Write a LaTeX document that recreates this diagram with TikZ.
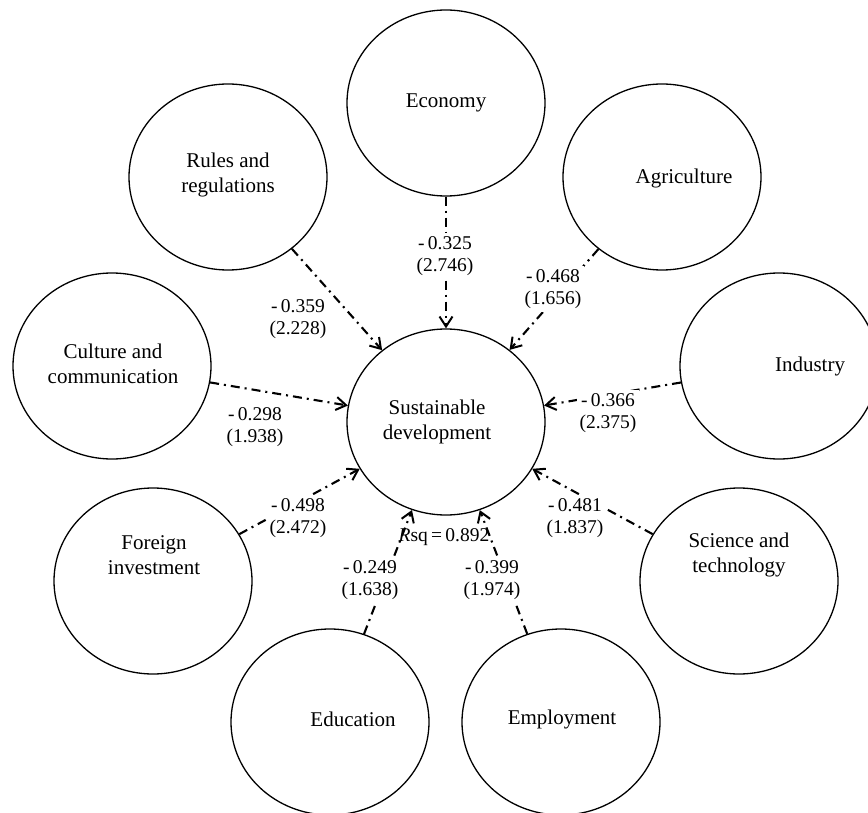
\documentclass[tikz,border=0pt]{standalone}
\usepackage{fontspec}
\setmainfont{Liberation Serif}
\usetikzlibrary{shapes.geometric,arrows.meta}

\begin{document}
\begin{tikzpicture}[x=1pt,y=-1pt,
  factor/.style={draw,ellipse,line width=1.3pt,minimum width=198pt,minimum height=186pt,inner sep=0pt},
  factortext/.style={align=center,inner sep=0pt,font=\fontsize{21}{25}\selectfont},
  coef/.style={align=center,fill=white,inner sep=3pt,font=\fontsize{19.5}{22}\selectfont},
  link/.style={line width=2.1pt,dash pattern=on 9pt off 5pt on 2pt off 5pt,-{Straight Barb[length=10pt,width=13pt,line width=2pt]}}]

\useasboundingbox (0,0) rectangle (868,813);
\clip (0,0) rectangle (868,813);

\node[factor] (sd) at (446,422) {};
\node[factor] (eco) at (446,103) {};
\node[factor] (rul) at (228,177) {};
\node[factor] (agr) at (662,177) {};
\node[factor] (cul) at (112,366) {};
\node[factor] (ind) at (779,366) {};
\node[factor] (fdi) at (153,581) {};
\node[factor] (sci) at (739,581) {};
\node[factor] (edu) at (330,722) {};
\node[factor] (emp) at (561,722) {};

\node[factortext] (sdtxt) at (437,422) {Sustainable\\development};
\node[factortext] (ecotxt) at (446,103) {Economy};
\node[factortext] (rultxt) at (228,175) {Rules and\\regulations};
\node[factortext] (agrtxt) at (684,178) {Agriculture};
\node[factortext] (cultxt) at (113,364) {Culture and\\communication};
\node[factortext] (indtxt) at (810,366) {Industry};
\node[factortext] (fditxt) at (154,555) {Foreign\\investment};
\node[factortext] (scitxt) at (739,555) {Science and\\technology};
\node[factortext] (edutxt) at (353,719) {Education};
\node[factortext] (emptxt) at (562,719) {Employment};

\foreach \f in {eco,rul,agr,cul,ind,fdi,sci,edu,emp}
  \draw[link] (\f) -- (sd);

\node[coef] (ecoc) at (445,256) {-\,0.325\\(2.746)};
\node[coef] (rulc) at (298,319) {-\,0.359\\(2.228)};
\node[coef] (agrc) at (553,289) {-\,0.468\\(1.656)};
\node[coef] (culc) at (255,427) {-\,0.298\\(1.938)};
\node[coef] (indc) at (608,413) {-\,0.366\\(2.375)};
\node[coef] (fdic) at (298,518) {-\,0.498\\(2.472)};
\node[coef] (scic) at (575,518) {-\,0.481\\(1.837)};
\node[coef] (educ) at (370,580) {-\,0.249\\(1.638)};
\node[coef] (empc) at (492,580) {-\,0.399\\(1.974)};

\node[font=\fontsize{19.5}{22}\selectfont] (rsq) at (444,537) {\textit{R}sq\,=\,0.892};

\end{tikzpicture}
\end{document}
